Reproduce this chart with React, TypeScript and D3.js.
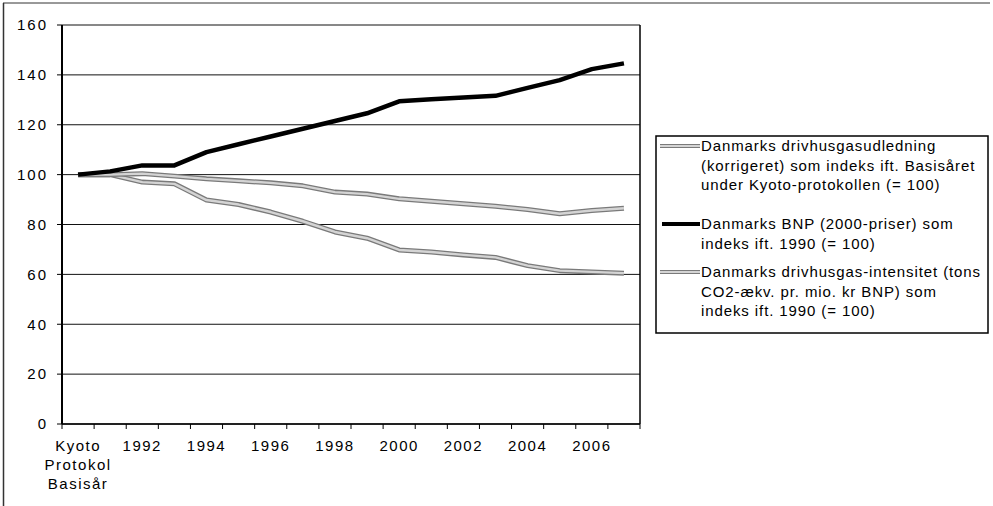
import { useMemo } from "react";
import * as d3 from "d3";

const WIDTH = 993;
const HEIGHT = 506;

const categories = [
  "Basisår", "1991", "1992", "1993", "1994", "1995", "1996", "1997", "1998",
  "1999", "2000", "2001", "2002", "2003", "2004", "2005", "2006", "2007",
];
const tickLabels = [
  ["Kyoto", "Protokol", "Basisår"], [], ["1992"], [], ["1994"], [], ["1996"], [], ["1998"],
  [], ["2000"], [], ["2002"], [], ["2004"], [], ["2006"], [],
];

const emissions = [100, 100, 100.4, 99.4, 98.3, 97.5, 96.7, 95.5, 93, 92.2, 90.3, 89.3, 88.3, 87.3, 86, 84.3, 85.6, 86.5];
const bnp = [100, 101.3, 103.7, 103.7, 109, 112.2, 115.3, 118.4, 121.5, 124.6, 129.4, 130.2, 130.9, 131.6, 134.8, 137.9, 142.3, 144.6];
const intensity = [100, 100, 97, 96.3, 89.8, 88, 85, 81.3, 77, 74.5, 69.8, 69, 67.8, 66.8, 63.5, 61.5, 61, 60.5];

const yTicks = [0, 20, 40, 60, 80, 100, 120, 140, 160];

const legendItems = [
  { kind: "gray", lines: ["Danmarks drivhusgasudledning", "(korrigeret) som indeks ift. Basisåret", "under Kyoto-protokollen (= 100)"] },
  { kind: "black", lines: ["Danmarks BNP (2000-priser) som", "indeks ift. 1990 (= 100)"] },
  { kind: "gray", lines: ["Danmarks drivhusgas-intensitet (tons", "CO2-ækv. pr. mio. kr BNP) som", "indeks ift. 1990 (= 100)"] },
];

const LEFT = 62;
const RIGHT = 640;
const TOP = 25;
const BOTTOM = 424;
const FONT = "'Liberation Sans', Arial, sans-serif";

export default function App() {
  const x = useMemo(() => d3.scaleBand<string>().domain(categories).range([LEFT, RIGHT]), []);
  const y = useMemo(() => d3.scaleLinear().domain([0, 160]).range([BOTTOM, TOP]), []);

  const line = d3
    .line<number>()
    .x((_, i) => (x(categories[i]) as number) + x.bandwidth() / 2)
    .y((d) => y(d));

  const grayLine = (d: string | null, key: string) => (
    <g key={key}>
      <path d={d ?? ""} fill="none" stroke="#7a7a7a" strokeWidth={5} strokeLinejoin="round" />
      <path d={d ?? ""} fill="none" stroke="#d4d4d4" strokeWidth={2.4} strokeLinejoin="round" />
    </g>
  );

  // centre line of the first row of each legend entry
  const legendY = [146, 224, 272];

  return (
    <svg
      width={WIDTH}
      height={HEIGHT}
      style={{ position: "absolute", left: 0, top: 0, background: "#fff" }}
      fontFamily={FONT}
    >
      {/* page frame */}
      <line x1={3} y1={3} x2={990} y2={3} stroke="#333" strokeWidth={1} />
      <line x1={3.5} y1={3} x2={3.5} y2={506} stroke="#333" strokeWidth={1.5} />

      {/* gridlines */}
      {yTicks.map((t) => (
        <line key={t} x1={LEFT} x2={RIGHT} y1={y(t)} y2={y(t)} stroke="#111" strokeWidth={1} />
      ))}
      {/* plot borders */}
      <line x1={LEFT} x2={LEFT} y1={TOP} y2={BOTTOM} stroke="#000" strokeWidth={2} />
      <line x1={RIGHT} x2={RIGHT} y1={TOP} y2={BOTTOM} stroke="#000" strokeWidth={1.5} />
      <line x1={LEFT} x2={RIGHT} y1={BOTTOM} y2={BOTTOM} stroke="#000" strokeWidth={1.5} />

      {/* y axis ticks and labels */}
      {yTicks.map((t) => (
        <g key={t}>
          <line x1={LEFT - 5} x2={LEFT} y1={y(t)} y2={y(t)} stroke="#000" strokeWidth={1} />
          <text x={48} y={y(t)} dy="0.35em" textAnchor="end" fontSize={15} letterSpacing={2}>
            {t}
          </text>
        </g>
      ))}

      {/* x axis ticks */}
      {categories.map((c) => (
        <line key={c} x1={x(c)} x2={x(c)} y1={BOTTOM} y2={BOTTOM + 5} stroke="#000" strokeWidth={1} />
      ))}
      <line x1={RIGHT} x2={RIGHT} y1={BOTTOM} y2={BOTTOM + 5} stroke="#000" strokeWidth={1} />
      {categories.map((c, i) =>
        tickLabels[i].map((l, j) => (
          <text
            key={c + j}
            x={(x(c) as number) + x.bandwidth() / 2}
            y={451 + j * 19}
            textAnchor="middle"
            fontSize={15}
            letterSpacing={1.5}
          >
            {l}
          </text>
        ))
      )}

      {/* series */}
      {grayLine(line(intensity), "int")}
      {grayLine(line(emissions), "em")}
      <path d={line(bnp) ?? ""} fill="none" stroke="#000" strokeWidth={4.5} strokeLinejoin="round" />

      {/* legend */}
      <rect x={656} y={136} width={332} height={197} fill="#fff" stroke="#000" strokeWidth={1.5} />
      {legendItems.map((item, i) => (
        <g key={i}>
          {item.kind === "gray" ? (
            <g>
              <line x1={660} x2={700} y1={legendY[i]} y2={legendY[i]} stroke="#7a7a7a" strokeWidth={4} />
              <line x1={660} x2={700} y1={legendY[i]} y2={legendY[i]} stroke="#d4d4d4" strokeWidth={1.8} />
            </g>
          ) : (
            <line x1={662} x2={700} y1={legendY[i]} y2={legendY[i]} stroke="#000" strokeWidth={4} />
          )}
          {item.lines.map((l, j) => (
            <text key={j} x={701} y={legendY[i] + 5 + j * 19.5} fontSize={15} letterSpacing={0.9}>
              {l}
            </text>
          ))}
        </g>
      ))}
    </svg>
  );
}
